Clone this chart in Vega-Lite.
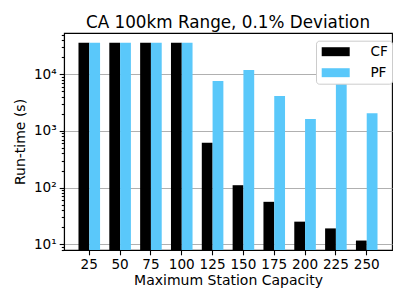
{
  "$schema": "https://vega.github.io/schema/vega-lite/v6.json",
  "autosize": {"type": "none"},
  "padding": {"left": 64, "top": 33, "right": 15, "bottom": 55},
  "width": 328,
  "height": 217,
  "title": {"text": "CA 100km Range, 0.1% Deviation", "fontSize": 16.8, "fontWeight": "normal", "font": "DejaVu Sans", "anchor": "middle", "baseline": "alphabetic", "offset": 5, "dy": 17, "frame": "group", "color": "black"},
  "data": {"values": [
    {"cap": "25", "method": "CF", "time": 36000},
    {"cap": "50", "method": "CF", "time": 36000},
    {"cap": "75", "method": "CF", "time": 36000},
    {"cap": "100", "method": "CF", "time": 36000},
    {"cap": "125", "method": "CF", "time": 620},
    {"cap": "150", "method": "CF", "time": 110},
    {"cap": "175", "method": "CF", "time": 56},
    {"cap": "200", "method": "CF", "time": 25},
    {"cap": "225", "method": "CF", "time": 19},
    {"cap": "250", "method": "CF", "time": 11.6},
    {"cap": "25", "method": "PF", "time": 36000},
    {"cap": "50", "method": "PF", "time": 36000},
    {"cap": "75", "method": "PF", "time": 36000},
    {"cap": "100", "method": "PF", "time": 36000},
    {"cap": "125", "method": "PF", "time": 7600},
    {"cap": "150", "method": "PF", "time": 11900},
    {"cap": "175", "method": "PF", "time": 4150},
    {"cap": "200", "method": "PF", "time": 1630},
    {"cap": "225", "method": "PF", "time": 8000},
    {"cap": "250", "method": "PF", "time": 2050}
  ]},
  "mark": {"type": "bar"},
  "encoding": {
    "x": {"field": "cap", "type": "ordinal", "sort": null,
      "scale": {"paddingInner": 0.3, "paddingOuter": 0.47},
      "axis": {"title": "Maximum Station Capacity", "labelAngle": 0, "tickSize": 4.8, "labelPadding": 3, "titlePadding": 2, "grid": false}},
    "xOffset": {"field": "method", "type": "nominal", "sort": ["CF", "PF"], "scale": {"paddingInner": 0, "paddingOuter": 0}},
    "y": {"field": "time", "type": "quantitative",
      "scale": {"type": "log", "domain": [7.9, 53500], "nice": false},
      "axis": {"title": "Run-time (s)", "titlePadding": 6,
        "values": [8, 9, 10, 20, 30, 40, 50, 60, 70, 80, 90, 100, 200, 300, 400, 500, 600, 700, 800, 900, 1000, 2000, 3000, 4000, 5000, 6000, 7000, 8000, 9000, 10000, 20000, 30000, 40000, 50000],
        "labelExpr": "datum.value===10?'10¹':datum.value===100?'10²':datum.value===1000?'10³':datum.value===10000?'10⁴':''",
        "tickSize": {"condition": {"test": "indexof([10,100,1000,10000], datum.value) >= 0", "value": 4.8}, "value": 2.7},
        "grid": true,
        "gridOpacity": {"condition": {"test": "indexof([10,100,1000,10000], datum.value) >= 0", "value": 1}, "value": 0},
        "gridColor": "#b0b0b0", "gridWidth": 1.1, "labelPadding": 3}},
    "y2": {"datum": 7.9},
    "color": {"field": "method", "type": "nominal",
      "scale": {"domain": ["CF", "PF"], "range": ["#000000", "#5ac8fa"]},
      "legend": {"title": null, "orient": "none", "legendX": 252, "legendY": 7.7,
        "symbolType": "M-2,-0.64H2V0.64H-2Z", "symbolSize": 196, "symbolStrokeWidth": 0, "symbolOffset": 8.7,
        "fillColor": "white", "strokeColor": "#cccccc", "cornerRadius": 3, "padding": 4,
        "labelFontSize": 13.6, "labelOffset": 27.7, "rowPadding": 7}}
  },
  "config": {
    "font": "DejaVu Sans",
    "view": {"stroke": "black", "strokeWidth": 1.1},
    "axis": {"labelFont": "DejaVu Sans", "titleFont": "DejaVu Sans", "labelFontSize": 13.6, "titleFontSize": 14, "titleFontWeight": "normal", "labelColor": "black", "titleColor": "black", "domainColor": "black", "tickColor": "black", "domainWidth": 1.1, "tickWidth": 1.1},
    "legend": {"labelFont": "DejaVu Sans", "labelColor": "black"}
  }
}
